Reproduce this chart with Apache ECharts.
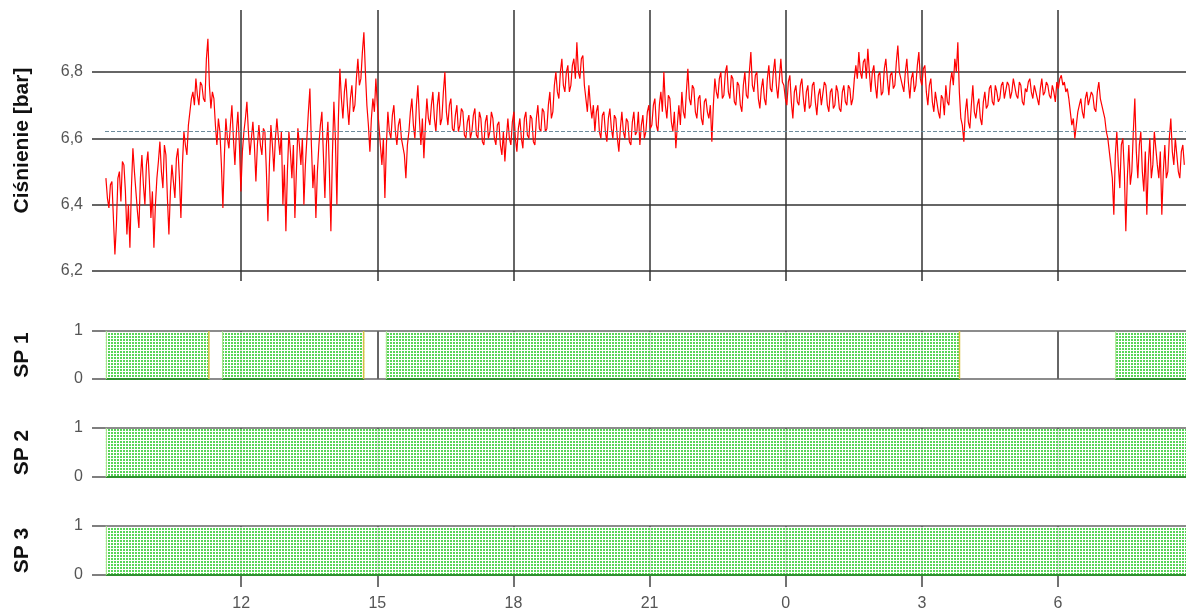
<!DOCTYPE html>
<html>
<head>
<meta charset="utf-8">
<script src="https://cdn.jsdelivr.net/npm/echarts@6/dist/echarts.min.js"></script>
<style>
  html, body { margin: 0; padding: 0; background: #fff; }
  #chart { width: 1186px; height: 612px; }
</style>
</head>
<body>
<div id="chart"></div>
<script>
// ciśnienie - próbki co ~2 min, start 9:01
const startHour = 9.02;
const stepHours = 0.03305;
const pressure = [
  6.48, 6.42, 6.39, 6.46, 6.47, 6.36, 6.25, 6.34, 6.48, 6.50, 6.41, 6.53, 6.52, 6.44, 6.31, 6.40, 6.27, 6.45, 6.57, 6.50,
  6.44, 6.38, 6.33, 6.48, 6.55, 6.46, 6.40, 6.52, 6.56, 6.47, 6.36, 6.44, 6.27, 6.40, 6.48, 6.53, 6.59, 6.50, 6.45, 6.58,
  6.55, 6.42, 6.31, 6.44, 6.52, 6.47, 6.42, 6.54, 6.57, 6.48, 6.36, 6.52, 6.62, 6.58, 6.55, 6.64, 6.68, 6.72, 6.74, 6.70,
  6.78, 6.73, 6.70, 6.77, 6.76, 6.72, 6.71, 6.84, 6.90, 6.76, 6.69, 6.74, 6.72, 6.64, 6.58, 6.66, 6.62, 6.52, 6.39, 6.55,
  6.66, 6.60, 6.57, 6.64, 6.70, 6.60, 6.52, 6.62, 6.68, 6.58, 6.44, 6.56, 6.62, 6.66, 6.71, 6.62, 6.55, 6.60, 6.65, 6.58,
  6.47, 6.58, 6.64, 6.58, 6.55, 6.63, 6.62, 6.50, 6.35, 6.52, 6.64, 6.58, 6.50, 6.60, 6.66, 6.60, 6.55, 6.62, 6.40, 6.52,
  6.32, 6.50, 6.62, 6.56, 6.48, 6.58, 6.36, 6.50, 6.63, 6.58, 6.52, 6.60, 6.40, 6.52, 6.60, 6.68, 6.75, 6.58, 6.45, 6.52,
  6.36, 6.50, 6.58, 6.64, 6.68, 6.55, 6.42, 6.58, 6.65, 6.50, 6.32, 6.55, 6.71, 6.60, 6.40, 6.66, 6.81, 6.72, 6.66, 6.74,
  6.78, 6.70, 6.64, 6.72, 6.76, 6.68, 6.70, 6.78, 6.84, 6.76, 6.78, 6.86, 6.92, 6.80, 6.70, 6.64, 6.56, 6.66, 6.72, 6.68,
  6.78, 6.70, 6.64, 6.58, 6.52, 6.60, 6.42, 6.58, 6.68, 6.62, 6.60, 6.67, 6.70, 6.62, 6.58, 6.64, 6.66, 6.60, 6.60, 6.55,
  6.48, 6.58, 6.62, 6.68, 6.72, 6.64, 6.60, 6.70, 6.76, 6.66, 6.58, 6.66, 6.54, 6.64, 6.72, 6.66, 6.64, 6.70, 6.74, 6.66,
  6.62, 6.70, 6.74, 6.64, 6.66, 6.74, 6.80, 6.68, 6.64, 6.70, 6.72, 6.63, 6.62, 6.67, 6.70, 6.62, 6.64, 6.69, 6.68, 6.61,
  6.60, 6.65, 6.67, 6.60, 6.62, 6.67, 6.69, 6.61, 6.60, 6.68, 6.66, 6.59, 6.58, 6.65, 6.67, 6.60, 6.62, 6.68, 6.66, 6.60,
  6.58, 6.64, 6.65, 6.58, 6.55, 6.62, 6.53, 6.60, 6.66, 6.60, 6.58, 6.65, 6.68, 6.60, 6.56, 6.63, 6.66, 6.60, 6.57, 6.66,
  6.68, 6.61, 6.60, 6.67, 6.66, 6.59, 6.58, 6.66, 6.70, 6.63, 6.62, 6.69, 6.68, 6.62, 6.63, 6.70, 6.74, 6.66, 6.68, 6.76,
  6.80, 6.74, 6.72, 6.80, 6.84, 6.76, 6.74, 6.80, 6.82, 6.74, 6.76, 6.82, 6.84, 6.78, 6.89, 6.80, 6.78, 6.84, 6.85, 6.76,
  6.72, 6.68, 6.76, 6.70, 6.66, 6.70, 6.62, 6.68, 6.70, 6.62, 6.60, 6.67, 6.68, 6.62, 6.59, 6.66, 6.69, 6.63, 6.60, 6.67,
  6.66, 6.60, 6.56, 6.63, 6.68, 6.62, 6.60, 6.66, 6.65, 6.59, 6.58, 6.65, 6.68, 6.61, 6.62, 6.68, 6.58, 6.64, 6.67, 6.60,
  6.62, 6.68, 6.70, 6.63, 6.64, 6.70, 6.72, 6.64, 6.62, 6.70, 6.74, 6.68, 6.80, 6.70, 6.66, 6.73, 6.72, 6.65, 6.62, 6.68,
  6.57, 6.64, 6.70, 6.64, 6.74, 6.68, 6.66, 6.74, 6.81, 6.72, 6.70, 6.76, 6.75, 6.68, 6.66, 6.72, 6.73, 6.66, 6.64, 6.71,
  6.72, 6.68, 6.66, 6.70, 6.59, 6.70, 6.78, 6.74, 6.72, 6.78, 6.80, 6.72, 6.73, 6.80, 6.82, 6.74, 6.72, 6.79, 6.78, 6.71,
  6.70, 6.77, 6.76, 6.70, 6.68, 6.76, 6.80, 6.73, 6.72, 6.80, 6.86, 6.76, 6.74, 6.79, 6.80, 6.72, 6.69, 6.75, 6.78, 6.72,
  6.70, 6.78, 6.82, 6.75, 6.74, 6.80, 6.84, 6.76, 6.72, 6.78, 6.84, 6.77, 6.76, 6.72, 6.70, 6.77, 6.79, 6.71, 6.66, 6.74,
  6.76, 6.71, 6.70, 6.76, 6.78, 6.72, 6.68, 6.74, 6.76, 6.69, 6.70, 6.76, 6.77, 6.71, 6.67, 6.73, 6.75, 6.70, 6.70, 6.77,
  6.76, 6.70, 6.68, 6.74, 6.75, 6.69, 6.70, 6.76, 6.74, 6.69, 6.68, 6.74, 6.76, 6.71, 6.70, 6.76, 6.75, 6.70, 6.72, 6.78,
  6.82, 6.78, 6.86, 6.80, 6.78, 6.83, 6.84, 6.78, 6.87, 6.80, 6.74, 6.80, 6.82, 6.76, 6.72, 6.79, 6.80, 6.73, 6.74, 6.81,
  6.84, 6.78, 6.73, 6.79, 6.80, 6.75, 6.76, 6.83, 6.88, 6.80, 6.80, 6.76, 6.74, 6.80, 6.84, 6.77, 6.72, 6.78, 6.80, 6.74,
  6.76, 6.82, 6.86, 6.78, 6.76, 6.81, 6.82, 6.74, 6.70, 6.76, 6.78, 6.71, 6.68, 6.74, 6.74, 6.68, 6.66, 6.73, 6.72, 6.67,
  6.76, 6.71, 6.70, 6.77, 6.80, 6.76, 6.84, 6.80, 6.89, 6.74, 6.66, 6.64, 6.59, 6.68, 6.72, 6.65, 6.63, 6.70, 6.76, 6.68,
  6.66, 6.70, 6.72, 6.66, 6.64, 6.71, 6.74, 6.69, 6.70, 6.75, 6.76, 6.71, 6.70, 6.76, 6.74, 6.71, 6.72, 6.76, 6.77, 6.72,
  6.72, 6.77, 6.76, 6.72, 6.74, 6.78, 6.78, 6.73, 6.72, 6.77, 6.76, 6.71, 6.70, 6.75, 6.74, 6.77, 6.78, 6.74, 6.72, 6.76,
  6.76, 6.72, 6.70, 6.75, 6.78, 6.73, 6.74, 6.77, 6.76, 6.73, 6.72, 6.76, 6.74, 6.71, 6.77, 6.75, 6.78, 6.79, 6.76, 6.77,
  6.74, 6.75, 6.72, 6.68, 6.64, 6.66, 6.60, 6.64, 6.68, 6.70, 6.72, 6.68, 6.66, 6.72, 6.74, 6.70, 6.70, 6.74, 6.73, 6.69,
  6.68, 6.74, 6.77, 6.72, 6.72, 6.68, 6.66, 6.62, 6.60, 6.56, 6.52, 6.48, 6.37, 6.55, 6.62, 6.52, 6.45, 6.58, 6.60, 6.50,
  6.32, 6.48, 6.58, 6.46, 6.50, 6.62, 6.72, 6.56, 6.48, 6.58, 6.62, 6.50, 6.44, 6.56, 6.37, 6.52, 6.60, 6.48, 6.52, 6.62,
  6.62, 6.52, 6.48, 6.56, 6.37, 6.50, 6.58, 6.48, 6.50, 6.60, 6.66, 6.56, 6.52, 6.60, 6.60, 6.50, 6.48, 6.56, 6.58, 6.52
];
const refLevel = 6.615; // linia przerywana
const pressureTicks = [6.2, 6.4, 6.6, 6.8];
const hourTicks = [12, 15, 18, 21, 24, 27, 30];
const hourMin = 9;
const hourMax = 32.82;

// stany sprężarek (czas zmiany w godzinach, stan od tej chwili)
const sp1Times = [9.02, 11.3, 11.58, 14.71, 15.19, 27.84, 31.26, 32.82];
const sp1States = [1, 0, 1, 0, 1, 0, 1, 1];
const sp2Times = [9.02, 32.82];
const sp2States = [1, 1];
const sp3Times = [9.02, 32.82];
const sp3States = [1, 1];

const gridLine = '#333';
const labelGray = '#555';
const font = 'Liberation Sans, Arial';

// kropkowany wzór do wypełnienia
const pat = document.createElement('canvas');
pat.width = 3; pat.height = 3;
const pctx = pat.getContext('2d');
pctx.fillStyle = 'rgba(255,255,255,0.85)';
pctx.fillRect(0, 0, 3, 3);
pctx.fillStyle = '#58d558';
pctx.fillRect(0, 0, 2, 2);
const dotPattern = { image: pat, repeat: 'repeat' };

function onIntervals(times, states) {
  const out = [];
  for (let i = 0; i < times.length - 1; i++) {
    if (states[i] === 1) out.push([times[i], times[i + 1]]);
  }
  return out;
}

function renderState(params, api) {
  const a = api.coord([api.value(0), 1]);
  const b = api.coord([api.value(1), 0]);
  const x0 = a[0], y0 = a[1], x1 = b[0], y1 = b[1];
  const kids = [
    { type: 'rect', shape: { x: x0, y: y0 + 1, width: x1 - x0, height: y1 - y0 - 1 }, style: { fill: dotPattern } },
    { type: 'line', shape: { x1: x0, y1: y1, x2: x1, y2: y1 }, style: { stroke: '#2f8f2f', lineWidth: 2 } },
    { type: 'line', shape: { x1: x0 + 0.5, y1: y0, x2: x0 + 0.5, y2: y1 }, style: { stroke: '#a6e58a', lineWidth: 1 } }
  ];
  if (api.value(1) < hourMax) {
    kids.push({ type: 'line', shape: { x1: x1 - 0.5, y1: y0, x2: x1 - 0.5, y2: y1 }, style: { stroke: '#d8c040', lineWidth: 1.5 } });
  }
  return { type: 'group', children: kids };
}

const fmtHour = v => String(Math.round(v) % 24);
const fmtBar = v => v.toFixed(1).replace('.', ',');

const grids = [
  { left: 105, right: 0, top: 10, height: 261 },
  { left: 105, right: 0, top: 331, height: 48 },
  { left: 105, right: 0, top: 428, height: 49 },
  { left: 105, right: 0, top: 526, height: 49 }
];

const xAxes = grids.map((g, i) => ({
  type: 'value',
  gridIndex: i,
  min: hourMin,
  max: hourMax,
  interval: 3,
  axisLine: { show: false },
  axisTick: {
    show: i === 0 || i === 3,
    customValues: hourTicks,
    length: i === 0 ? 10 : 12,
    lineStyle: { color: i === 0 ? gridLine : '#444', width: 1.5 }
  },
  axisLabel: {
    show: i === 3,
    customValues: hourTicks,
    formatter: fmtHour,
    color: labelGray,
    fontSize: 16,
    fontFamily: font,
    margin: 21
  },
  splitLine: { show: true, lineStyle: { color: gridLine, width: 1.5 } }
}));

const nameStyle = { color: '#111', fontSize: 21, fontWeight: 'bold', fontFamily: font };
const spNames = ['SP 1', 'SP 2', 'SP 3'];
const yAxes = [{
  type: 'value',
  gridIndex: 0,
  min: 6.2,
  max: 6.987,
  interval: 0.2,
  name: 'Ciśnienie [bar]',
  nameLocation: 'middle',
  nameGap: 72,
  nameTextStyle: nameStyle,
  axisLine: { show: false },
  axisTick: { show: true, customValues: pressureTicks, length: 13, lineStyle: { color: gridLine, width: 1.5 } },
  axisLabel: { customValues: pressureTicks, formatter: fmtBar, color: labelGray, fontSize: 16, fontFamily: font, margin: 22 },
  splitLine: { show: true, lineStyle: { color: gridLine, width: 1.5 } }
}].concat(spNames.map((n, k) => ({
  type: 'value',
  gridIndex: k + 1,
  min: 0,
  max: 1,
  interval: 1,
  z: 3,
  name: n,
  nameLocation: 'middle',
  nameGap: 72,
  nameTextStyle: nameStyle,
  axisLine: { show: false },
  axisTick: { show: true, length: 13, lineStyle: { color: '#555', width: 1.5 } },
  axisLabel: { color: labelGray, fontSize: 16, fontFamily: font, margin: 22 },
  splitLine: { show: true, lineStyle: { color: '#666', width: 1.5 } }
})));

const states = [[sp1Times, sp1States], [sp2Times, sp2States], [sp3Times, sp3States]];

const series = [{
  type: 'line',
  xAxisIndex: 0,
  yAxisIndex: 0,
  showSymbol: false,
  symbol: 'none',
  z: 4,
  lineStyle: { color: '#ff0000', width: 1.2 },
  data: pressure.map((v, i) => [startHour + i * stepHours, v]),
  markLine: {
    silent: true,
    symbol: 'none',
    label: { show: false },
    lineStyle: { color: '#6d8c9c', type: 'dashed', width: 1 },
    data: [{ yAxis: refLevel }]
  }
}].concat(states.map((s, k) => ({
  type: 'custom',
  xAxisIndex: k + 1,
  yAxisIndex: k + 1,
  z: 4,
  renderItem: renderState,
  encode: { x: [0, 1] },
  data: onIntervals(s[0], s[1])
})));

const chart = echarts.init(document.getElementById('chart'));
chart.setOption({
  backgroundColor: '#fff',
  animation: false,
  grid: grids,
  xAxis: xAxes,
  yAxis: yAxes,
  series: series
});
</script>
</body>
</html>
